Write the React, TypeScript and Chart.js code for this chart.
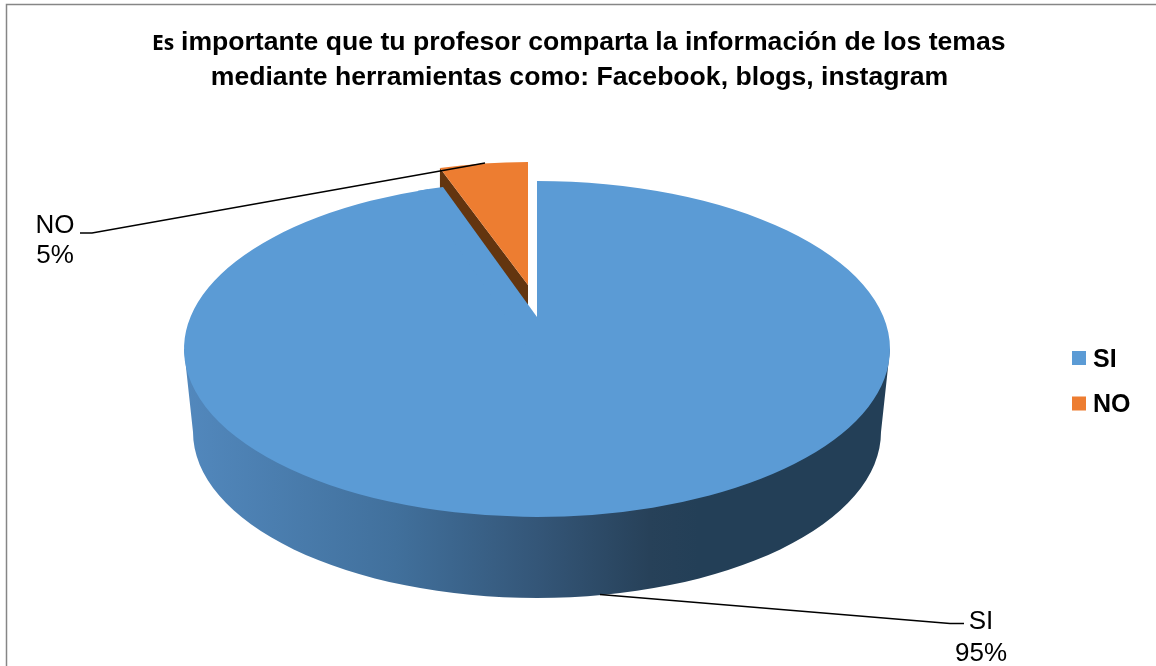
import React, { useEffect, useRef } from "react";
import { Chart, registerables } from "chart.js";

Chart.register(...registerables);

const categories = ["SI", "NO"];
const seriesValues = [95, 5];
const sliceColors = ["#5B9BD5", "#ED7D31"];
const dataLabels = ["95%", "5%"];
const titleLead = "Es";
const titleLine1 = "importante que tu profesor comparta la información de los temas";
const titleLine2 = "mediante herramientas como: Facebook, blogs, instagram";

const SANS = '"Liberation Sans", Arial, sans-serif';

const pie3d = {
  id: "pie3d",
  beforeDatasetDraw(chart: any) {
    const { ctx } = chart;
    const [blue, orange] = chart.getDatasetMeta(0).data;
    const R = blue.outerRadius;
    const cx = 537, cy = 349, rx = 353, ry = 168;
    const place = (arc: any, x: number, y: number, a: number, b: number) => {
      ctx.save();
      ctx.translate(x, y);
      ctx.scale(a / R, b / R);
      ctx.translate(-arc.x, -arc.y);
      arc.draw(ctx);
      ctx.restore();
    };

    // extruded side of the disc
    const g = ctx.createLinearGradient(cx - rx, 0, cx + rx, 0);
    g.addColorStop(0, "#5288BD");
    g.addColorStop(0.3, "#41709C");
    g.addColorStop(0.5, "#345678");
    g.addColorStop(0.66, "#274159");
    g.addColorStop(0.73, "#233F57");
    g.addColorStop(1, "#233F57");
    ctx.save();
    ctx.fillStyle = g;
    ctx.beginPath();
    ctx.moveTo(cx - rx, cy);
    ctx.lineTo(cx - 344, 432);
    ctx.ellipse(cx, 432, 344, 166, 0, Math.PI, 0, true);
    ctx.lineTo(cx + rx, cy);
    ctx.closePath();
    ctx.fill();
    ctx.restore();

    // exploded slice geometry
    const ox = 528, oy = 285, orx = 285, ory = 123;
    const t = Math.PI * 2 * (seriesValues[1] / (seriesValues[0] + seriesValues[1]));
    const lx = ox - orx * Math.sin(t);
    const ly = oy - ory * Math.cos(t);
    ctx.save();
    ctx.fillStyle = "#63350F";
    ctx.beginPath();
    ctx.moveTo(lx, ly);
    ctx.lineTo(ox, oy);
    ctx.lineTo(ox, oy + 22);
    ctx.lineTo(lx, ly + 22);
    ctx.closePath();
    ctx.fill();
    ctx.restore();

    place(blue, cx, cy, rx, ry);

    // perspective: the wedge notch meets the centre above the ellipse centre
    const apexY = 317;
    const tL = -Math.acos(-94 / rx);
    const tEnd = -Math.PI / 2 - t - 0.03;
    ctx.save();
    ctx.fillStyle = sliceColors[0];
    ctx.beginPath();
    ctx.moveTo(cx, apexY);
    ctx.lineTo(cx + rx * Math.cos(tL), cy + ry * Math.sin(tL));
    ctx.ellipse(cx, cy, rx, ry, 0, tL, tEnd, true);
    ctx.lineTo(cx, cy + 12);
    ctx.closePath();
    ctx.fill();
    ctx.restore();

    place(orange, ox, oy, orx, ory);
    return false;
  },
  afterDraw(chart: any) {
    const { ctx } = chart;
    ctx.save();
    // frame
    ctx.strokeStyle = "#868686";
    ctx.lineWidth = 1.5;
    ctx.beginPath();
    ctx.moveTo(6.5, 666);
    ctx.lineTo(6.5, 4.5);
    ctx.lineTo(1156, 4.5);
    ctx.stroke();

    // title
    ctx.fillStyle = "#000";
    ctx.textBaseline = "alphabetic";
    ctx.textAlign = "left";
    ctx.font = 'bold 21px "Open Sans", sans-serif';
    ctx.fillText(titleLead, 152, 50);
    ctx.font = `bold 26.6px ${SANS}`;
    ctx.fillText(titleLine1, 181, 50);
    ctx.textAlign = "center";
    ctx.fillText(titleLine2, 579.5, 85);

    // leader lines
    ctx.strokeStyle = "#000";
    ctx.lineWidth = 1.3;
    ctx.beginPath();
    ctx.moveTo(80, 233);
    ctx.lineTo(92, 233);
    ctx.lineTo(485, 163);
    ctx.moveTo(600, 594.5);
    ctx.lineTo(950, 623.5);
    ctx.lineTo(964, 623.5);
    ctx.stroke();

    // data labels
    ctx.font = `26px ${SANS}`;
    ctx.textBaseline = "middle";
    ctx.fillText(categories[1], 55, 225.5);
    ctx.fillText(dataLabels[1], 55, 256);
    ctx.fillText(categories[0], 981, 622);
    ctx.fillText(dataLabels[0], 981, 654);

    // legend
    ctx.textAlign = "left";
    ctx.font = `bold 25px ${SANS}`;
    categories.forEach((c, i) => {
      const y = 358 + i * 45.5;
      ctx.fillStyle = sliceColors[i];
      ctx.fillRect(1072, y - 7, 14, 14);
      ctx.fillStyle = "#000";
      ctx.fillText(c, 1093, y + 2);
    });
    ctx.restore();
  },
};

export default function App() {
  const ref = useRef<HTMLCanvasElement>(null);
  useEffect(() => {
    const chart = new Chart(ref.current!, {
      type: "pie",
      data: {
        labels: categories,
        datasets: [{ data: seriesValues, backgroundColor: sliceColors, borderWidth: 0 }],
      },
      options: {
        animation: false,
        responsive: false,
        layout: { padding: 0 },
        plugins: {
          legend: { display: false },
          tooltip: { enabled: false },
          title: { display: false },
        },
      },
      plugins: [pie3d],
    } as any);
    return () => chart.destroy();
  }, []);
  return (
    <canvas
      ref={ref}
      width={1156}
      height={666}
      style={{ position: "absolute", left: 0, top: 0, width: 1156, height: 666, background: "#fff" }}
    />
  );
}
